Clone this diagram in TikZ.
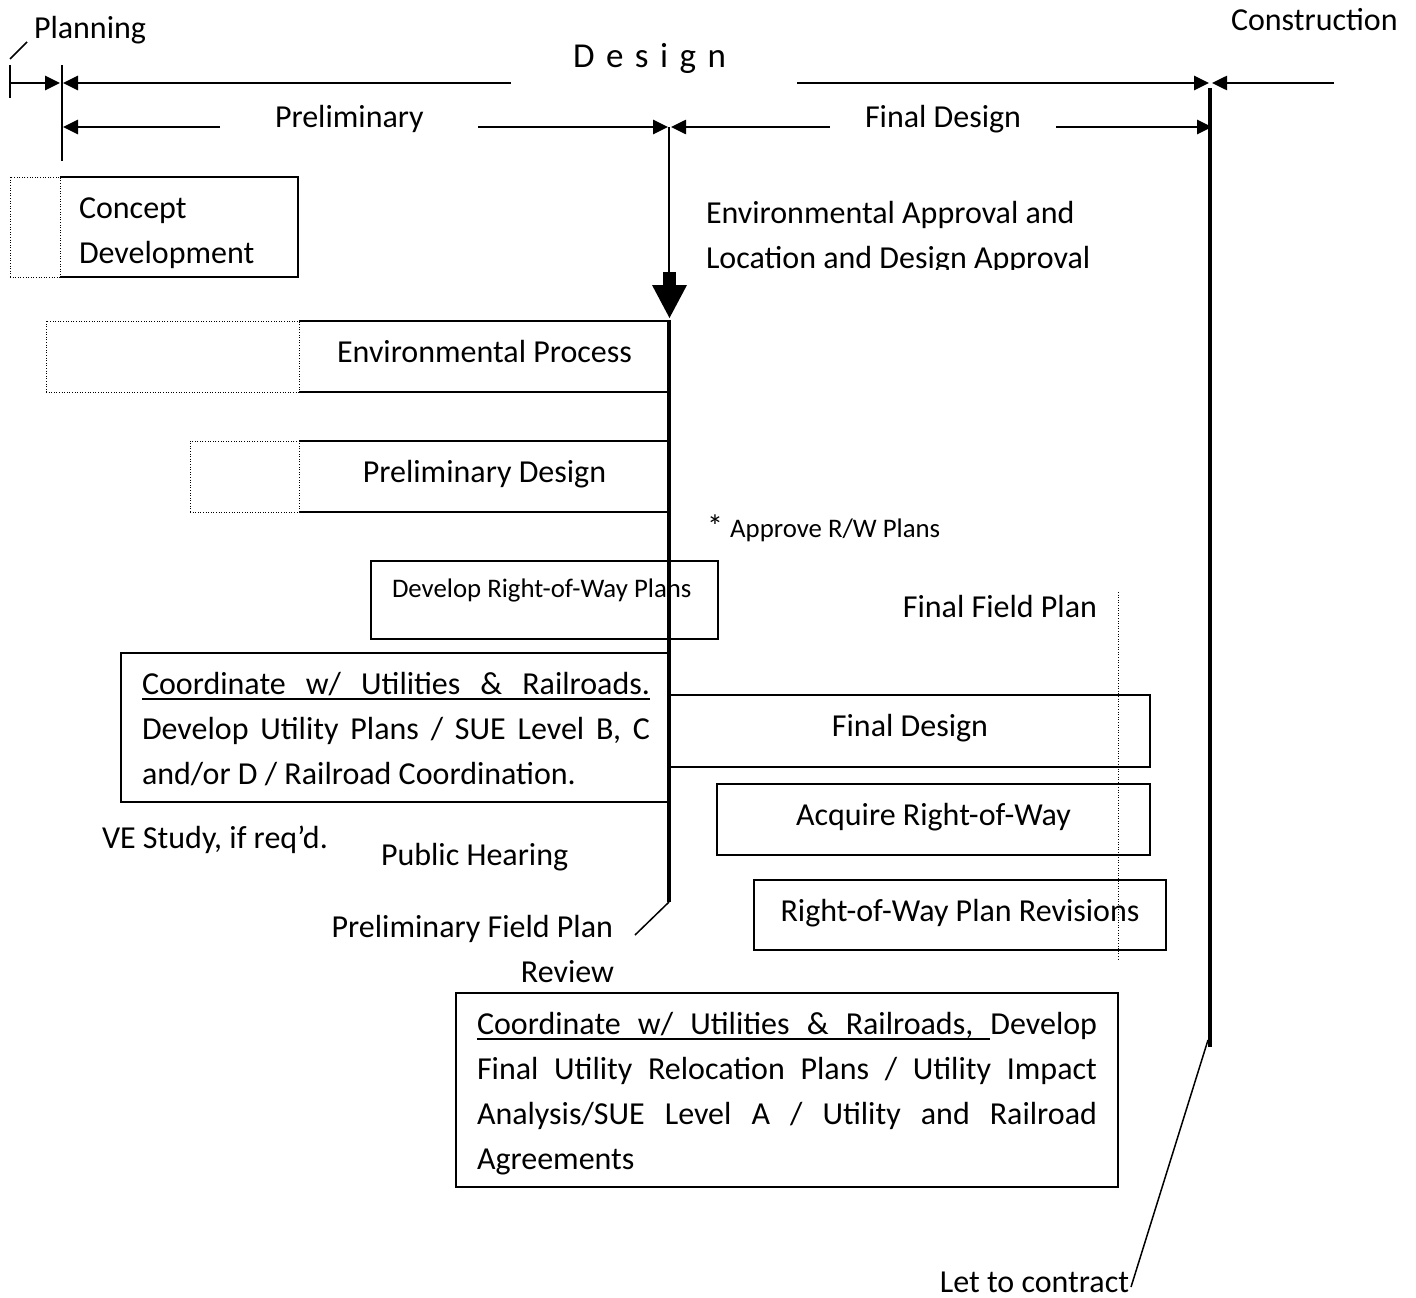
\documentclass[tikz,border=0pt]{standalone}
\usepackage{fontspec}
\setmainfont{Carlito}
\usetikzlibrary{arrows.meta}
\newcommand\myulw[1]{\setbox0=\hbox{#1}\rlap{\vrule height -4pt depth 6pt width \wd0}\box0}
\newcommand\myulsp{\leaders\hrule height -4pt depth 6pt\hfill}
\tikzset{
  lbl/.style={inner sep=0pt, outer sep=0pt, anchor=base west, font=\fontsize{32}{45}\selectfont},
  lblc/.style={lbl, anchor=base},
  lble/.style={lbl, anchor=base east},
  smalllbl/.style={lbl, font=\fontsize{26.8}{32}\selectfont},
  area/.style={rectangle, inner sep=0pt, outer sep=0pt, anchor=north west},
  solidbox/.style={area, draw, line width=1.6pt},
  solidline/.style={line width=1.6pt},
  dotbox/.style={area, draw, line width=1pt, dash pattern=on 1pt off 1.6pt},
  dotline/.style={line width=1pt, dash pattern=on 1pt off 1.6pt},
  barrow/.style={line width=2.6pt, -{Triangle[length=15pt,width=14pt]}},
  thinmark/.style={line width=1.5pt},
}
\begin{document}
\begin{tikzpicture}[x=1pt,y=-1pt]
\useasboundingbox (0,0) rectangle (1416,1298);
\fill[white] (0,0) rectangle (1416,1298);

% ---------- header ----------
\node[lbl] (planning) at (34,39) {Planning};
\node[lbl] (construction) at (1231,31) {Construction};
\node[lbl, font=\fontsize{35}{40}\selectfont] (design) at (573,67)
  {D\hspace{11.5pt}e\hspace{11.5pt}s\hspace{11.5pt}i\hspace{11.5pt}g\hspace{11.5pt}n};
\node[lbl] (prelim) at (275,127) {Preliminary};
\node[lbl] (finaldes) at (865,127) {Final Design};

\coordinate (pslashA) at (10,59);
\coordinate (pslashB) at (27,42);
\draw[thinmark] (pslashA) -- (pslashB);

\coordinate (ptickT) at (10,65);
\coordinate (ptickB) at (10,98);
\draw[thinmark] (ptickT) -- (ptickB);
\coordinate (pl0) at (10,83);
\coordinate (pl1) at (60,83);
\draw[barrow] (pl0) -- (pl1);

\coordinate (v62T) at (62,65);
\coordinate (v62B) at (62,161);
\draw[thinmark] (v62T) -- (v62B);

\coordinate (dl0) at (511,83);
\coordinate (dl1) at (63,83);
\draw[barrow] (dl0) -- (dl1);
\coordinate (dr0) at (797,83);
\coordinate (dr1) at (1209,83);
\draw[barrow] (dr0) -- (dr1);
\coordinate (cr0) at (1334,83);
\coordinate (cr1) at (1212,83);
\draw[barrow] (cr0) -- (cr1);

\coordinate (prl0) at (220,127);
\coordinate (prl1) at (63,127);
\draw[barrow] (prl0) -- (prl1);
\coordinate (prr0) at (478,127);
\coordinate (prr1) at (668,127);
\draw[barrow] (prr0) -- (prr1);
\coordinate (fdl0) at (830,127);
\coordinate (fdl1) at (671,127);
\draw[barrow] (fdl0) -- (fdl1);
\coordinate (fdr0) at (1056,127);
\coordinate (fdr1) at (1212,127);
\draw[barrow] (fdr0) -- (fdr1);

% ---------- boxes ----------
\node[dotbox, minimum width=50pt, minimum height=100pt] (conceptx) at (10,177) {};
\node[area, minimum width=238pt, minimum height=100pt] (concept) at (60,177) {};
\draw[solidline] (concept.north west) -- (concept.north east) -- (concept.south east) -- (concept.south west);
\node[lbl] (concept1) at (79,218) {Concept};
\node[lbl] (concept2) at (79,263) {Development};

\node[dotbox, minimum width=253pt, minimum height=71pt] (envx) at (46,321) {};
\node[area, minimum width=370pt, minimum height=71pt] (env) at (299,321) {};
\draw[solidline] (env.north west) -- (env.north east) -- (env.south east) -- (env.south west);
\node[lblc] (envtxt) at (484.5,362) {Environmental Process};

\node[dotbox, minimum width=109pt, minimum height=71pt] (pdx) at (190,441) {};
\node[area, minimum width=370pt, minimum height=71pt] (pd) at (299,441) {};
\draw[solidline] (pd.north west) -- (pd.north east) -- (pd.south east) -- (pd.south west);
\node[lblc] (pdtxt) at (484.5,482) {Preliminary Design};

\node[solidbox, minimum width=347pt, minimum height=78pt] (rw) at (371,561) {};
\node[smalllbl] (rwtxt) at (392,597) {Develop Right-of-Way Plans};

\node[solidbox, minimum width=548pt, minimum height=149pt] (coord1) at (121,653) {};
\node[lbl] (c1a) at (142,694) {\hbox to 508pt{\myulw{Coordinate}\myulsp\myulw{w/}\myulsp\myulw{Utilities}\myulsp\myulw{\&}\myulsp\myulw{Railroads.}}};
\node[lbl] (c1b) at (142,739) {\hbox to 508pt{Develop\hfill Utility\hfill Plans\hfill /\hfill SUE\hfill Level\hfill B,\hfill C}};
\node[lbl] (c1c) at (142,784) {and/or D / Railroad Coordination.};

\node[solidbox, minimum width=481pt, minimum height=72pt] (fd) at (669,695) {};
\node[lblc] (fdtxt) at (910,736) {Final Design};
\node[solidbox, minimum width=433pt, minimum height=71pt] (acq) at (717,784) {};
\node[lblc] (acqtxt) at (933.5,825) {Acquire Right-of-Way};
\node[solidbox, minimum width=412pt, minimum height=70pt] (rev) at (754,880) {};
\node[lblc] (revtxt) at (960,921) {Right-of-Way Plan Revisions};

\node[solidbox, minimum width=662pt, minimum height=194pt] (coord2) at (456,993) {};
\node[lbl] (c2a) at (477,1034) {\hbox to 620pt{\myulw{Coordinate}\myulsp\myulw{w/}\myulsp\myulw{Utilities}\myulsp\myulw{\&}\myulsp\myulw{Railroads,}\myulsp Develop}};
\node[lbl] (c2b) at (477,1079) {\hbox to 620pt{Final\hfill Utility\hfill Relocation\hfill Plans\hfill /\hfill Utility\hfill Impact}};
\node[lbl] (c2c) at (477,1124) {\hbox to 620pt{Analysis/SUE\hfill Level\hfill A\hfill /\hfill Utility\hfill and\hfill Railroad}};
\node[lbl] (c2d) at (477,1169) {Agreements};

% ---------- free labels ----------
\begin{scope}
\clip (690,170) rectangle (1130,269.5);
\node[lbl] (envappr1) at (706,223) {Environmental Approval and};
\node[lbl] (envappr2) at (706,268) {Location and Design Approval};
\end{scope}
\node[lbl] (approve) at (707,537) {* {\fontsize{26.8}{32}\selectfont Approve R/W Plans}};
\node[lble] (ffp) at (1097,617) {Final Field Plan};
\node[lbl] (ve) at (102,848) {VE Study, if req’d.};
\node[lbl] (ph) at (381,865) {Public Hearing};
\node[lble] (pfp1) at (613,937) {Preliminary Field Plan};
\node[lble] (pfp2) at (614,982) {Review};
\node[lble] (let) at (1129,1292) {Let to contract};

% ---------- milestone lines ----------
\coordinate (mT) at (669,127);
\coordinate (mS) at (669,272);
\draw[thinmark] (mT) -- (mS);
\fill (662.5,272) rectangle (675.5,285);
\coordinate (mTip) at (669.5,318);
\fill (652,285) -- (687,285) -- (mTip) -- cycle;
\coordinate (mL0) at (669,320);
\coordinate (mL1) at (669,902);
\draw[line width=4pt] (mL0) -- (mL1);
\coordinate (pfpEnd) at (635,935);
\draw[thinmark] (mL1) -- (pfpEnd);

\coordinate (cT) at (1210,88);
\coordinate (cB) at (1210,1047);
\draw[line width=3.5pt] (cT) -- (cB);
\coordinate (letS) at (1208,1040);
\coordinate (letE) at (1131,1287);
\draw[thinmark] (letS) -- (letE);

\coordinate (dvT) at (1118,592);
\coordinate (dvB) at (1118,960);
\draw[dotline] (dvT) -- (dvB);
\end{tikzpicture}
\end{document}
